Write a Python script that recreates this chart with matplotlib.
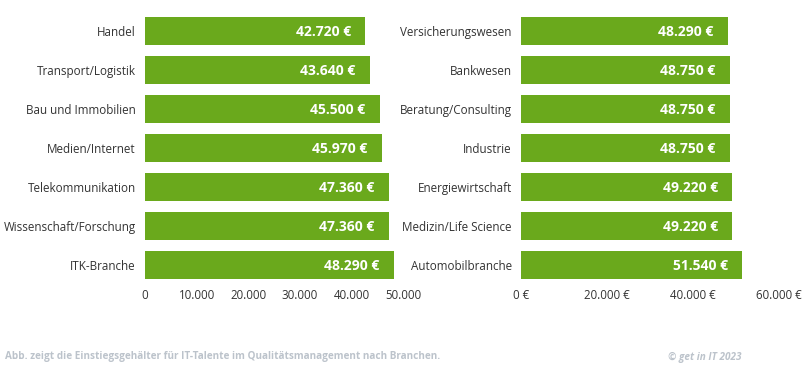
import numpy as np
import matplotlib
matplotlib.use("Agg")
import matplotlib.pyplot as plt
from matplotlib.ticker import FuncFormatter

plt.rcParams['font.family'] = ['Open Sans', 'DejaVu Sans']

# left panel
left_names = ['Handel', 'Transport/Logistik', 'Bau und Immobilien', 'Medien/Internet',
              'Telekommunikation', 'Wissenschaft/Forschung', 'ITK-Branche']
left_values = [42720, 43640, 45500, 45970, 47360, 47360, 48290]
left_ticks = [0, 10000, 20000, 30000, 40000, 50000]

# right panel
right_names = ['Versicherungswesen', 'Bankwesen', 'Beratung/Consulting', 'Industrie',
               'Energiewirtschaft', 'Medizin/Life Science', 'Automobilbranche']
right_values = [48290, 48750, 48750, 48750, 49220, 49220, 51540]
right_ticks = [0, 20000, 40000, 60000]

green = '#6aa91c'
txt = '#333333'


def de(v):
    return f'{v:,.0f}'.replace(',', '.')


fig = plt.figure(figsize=(8.06, 3.88), dpi=100)
ax1 = fig.add_axes([145/806, 0.2667, 258/806, 0.7043])
ax2 = fig.add_axes([520.7/806, 0.2667, 258/806, 0.7043])


def draw(ax, names, values, ticks, xmax, euro):
    y = np.arange(len(names))
    ax.barh(y, values, height=0.72, color=green)
    for yi, v in zip(y, values):
        ax.annotate(de(v) + ' €', (v, yi), xytext=(-10.5, -1), textcoords='offset points',
                    ha='right', va='center', color='white', fontsize=10, fontweight='bold')
    ax.set_ylim(len(names) - 0.5, -0.5)
    ax.set_xlim(0, xmax)
    ax.set_yticks(y)
    ax.set_yticklabels(names, fontsize=8.4, color=txt)
    ax.set_xticks(ticks)
    if euro:
        ax.xaxis.set_major_formatter(FuncFormatter(lambda v, p: de(v) + ' €'))
    else:
        ax.xaxis.set_major_formatter(FuncFormatter(lambda v, p: de(v)))
    ax.tick_params(axis='x', length=0, pad=3, labelsize=8.3, labelcolor=txt)
    ax.tick_params(axis='y', length=0, pad=6.5)
    for s in ax.spines.values():
        s.set_visible(False)


draw(ax1, left_names, left_values, left_ticks, 50000, False)
draw(ax2, right_names, right_values, right_ticks, 60000, True)

fig.text(5/806, 1 - 357/388, 'Abb. zeigt die Einstiegsgehälter für IT-Talente im Qualitätsmanagement nach Branchen.',
         fontsize=7.2, fontweight='bold', color='#bcc3cb', va='center', ha='left')
fig.text(742/806, 1 - 357/388, '© get in IT 2023', fontsize=7.2, fontweight='bold',
         fontstyle='italic', color='#bcc3cb', va='center', ha='right')

fig.savefig('out.png', dpi=100, facecolor='white')
